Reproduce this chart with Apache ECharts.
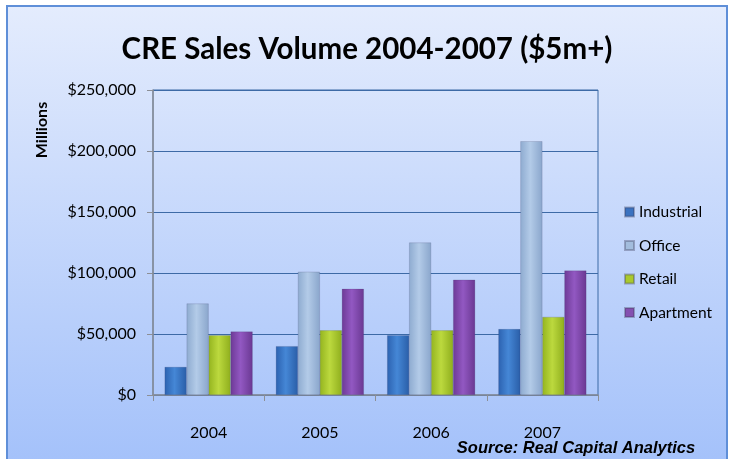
<!DOCTYPE html>
<html>
<head>
<meta charset="utf-8">
<script src="https://cdn.jsdelivr.net/npm/echarts@6/dist/echarts.min.js"></script>
<style>
html,body{margin:0;padding:0;background:#fff;}
#c{width:734px;height:459px;}
</style>
</head>
<body>
<div id="c"></div>
<script>
const years = ['2004', '2005', '2006', '2007'];
const industrial = [23000, 40000, 49000, 54000];
const office = [75000, 101000, 125000, 208000];
const retail = [49000, 53000, 53000, 64000];
const apartment = [52000, 87000, 94500, 102000];
const seriesNames = ['Industrial', 'Office', 'Retail', 'Apartment'];
const titleText = 'CRE Sales Volume 2004-2007 ($5m+)';
const yAxisTitle = 'Millions';
const sourceText = 'Source: Real Capital Analytics';

const FONT = 'Lato';
function grad(c1, c2, c3) {
  return new echarts.graphic.LinearGradient(0, 0, 1, 0, [
    {offset: 0, color: c1}, {offset: 0.45, color: c2}, {offset: 1, color: c3}
  ]);
}
const fills = [
  grad('#2c62b0', '#4587d6', '#2a5ea8'),
  grad('#8eabd0', '#b3cbe8', '#8aa6cc'),
  grad('#94b41f', '#bcd93e', '#8fae1d'),
  grad('#6d3a96', '#9258c2', '#6a3892')
];
const legendColors = ['#3a72c0', '#a3bddd', '#aac92e', '#8450b0'];
const data = [industrial, office, retail, apartment];

const chart = echarts.init(document.getElementById('c'), null, {renderer: 'canvas'});
chart.setOption({
  backgroundColor: '#ffffff',
  animation: false,
  graphic: [
    {
      type: 'rect', z: -10, silent: true,
      shape: {x: 7, y: 6, width: 720, height: 470},
      style: {
        fill: new echarts.graphic.LinearGradient(0, 0, 0, 1, [
          {offset: 0, color: '#e4ecfd'}, {offset: 1, color: '#a2c0fa'}
        ]),
        stroke: '#5f8fd8', lineWidth: 2
      }
    },
    {
      type: 'text', x: 42, y: 130, rotation: Math.PI / 2,
      style: {text: yAxisTitle, font: 'bold 16px ' + FONT, fill: '#000', align: 'center', verticalAlign: 'middle'}
    },
    {
      type: 'text', x: 576, y: 448,
      style: {text: sourceText, font: 'italic bold 16.5px "Liberation Sans"', fill: '#000', align: 'center', verticalAlign: 'middle'}
    }
  ],
  title: {
    text: titleText, left: 'center', top: 29,
    textStyle: {fontFamily: FONT, fontWeight: 'bold', fontSize: 29.5, color: '#000'}
  },
  legend: {
    orient: 'vertical', left: 619, top: 199,
    itemWidth: 9, itemHeight: 9, itemGap: 17.5,
    textStyle: {fontFamily: FONT, fontSize: 15.5, color: '#000'},
    data: seriesNames.map((n, i) => ({name: n, icon: 'rect', itemStyle: {color: legendColors[i]}}))
  },
  grid: {
    left: 153, top: 90, width: 445, height: 305,
    show: true, borderColor: '#3d6aa6', borderWidth: 1, backgroundColor: 'transparent'
  },
  xAxis: {
    type: 'category', data: years,
    axisLine: {lineStyle: {color: '#8c8f96', width: 1.5}},
    axisTick: {show: true, length: 6, lineStyle: {color: '#8c8f96'}},
    axisLabel: {fontFamily: FONT, fontSize: 16, color: '#000', margin: 30}
  },
  yAxis: {
    type: 'value', min: 0, max: 250000, interval: 50000,
    axisLine: {show: true, lineStyle: {color: '#8c8f96', width: 1.5}},
    axisTick: {show: true, length: 6, lineStyle: {color: '#8c8f96'}},
    splitLine: {lineStyle: {color: '#3d6aa6', width: 1}},
    axisLabel: {
      fontFamily: FONT, fontSize: 16, color: '#000', margin: 17,
      formatter: v => '$' + v.toLocaleString('en-US')
    }
  },
  series: seriesNames.map((n, i) => ({
    name: n, type: 'bar', data: data[i],
    barWidth: 22, barGap: '0%',
    itemStyle: {color: fills[i], borderColor: 'rgba(60,60,90,0.35)', borderWidth: 0.5}
  }))
});
</script>
</body>
</html>
